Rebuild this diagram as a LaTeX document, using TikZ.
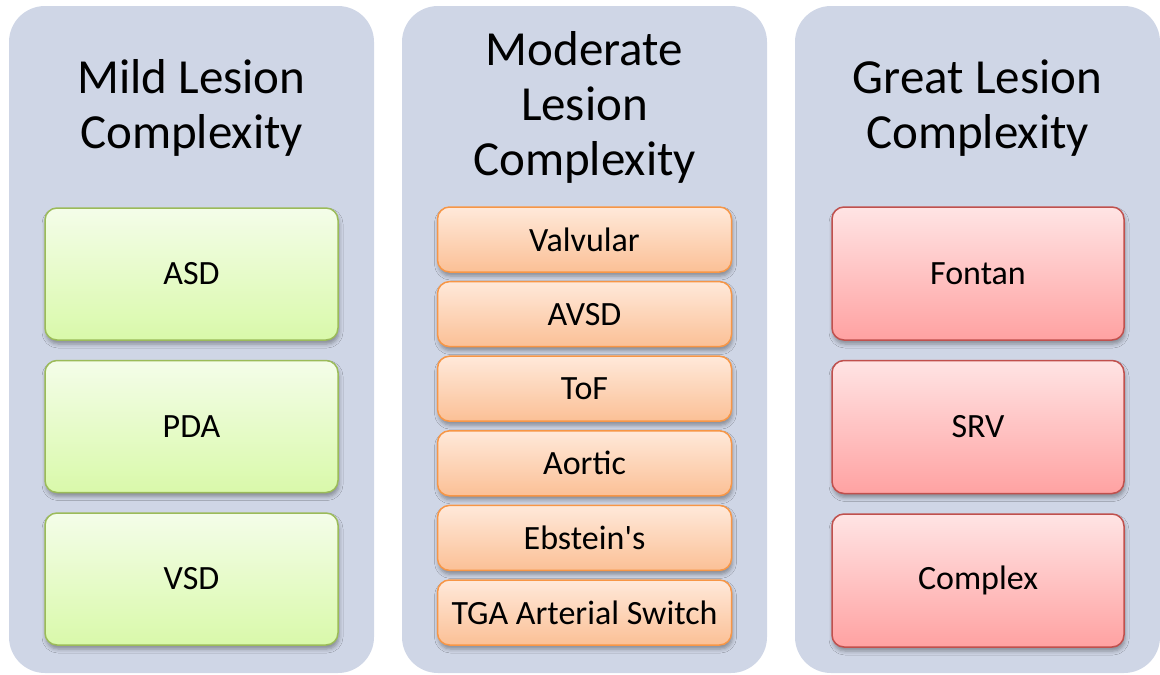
\documentclass[tikz,border=0pt]{standalone}
\usepackage{fontspec}
\setmainfont{Carlito}
\usetikzlibrary{positioning,shadows.blur}

\definecolor{paneblue}{RGB}{207,214,230}
\definecolor{mildline}{RGB}{155,187,89}
\definecolor{mildtop}{RGB}{244,253,233}
\definecolor{mildbot}{RGB}{217,249,170}
\definecolor{modline}{RGB}{247,150,70}
\definecolor{modtop}{RGB}{255,233,218}
\definecolor{modbot}{RGB}{251,192,150}
\definecolor{greatline}{RGB}{192,80,77}
\definecolor{greattop}{RGB}{255,228,228}
\definecolor{greatbot}{RGB}{255,162,162}

\begin{document}
\begin{tikzpicture}
[x=1pt, y=-1pt, node distance=19pt,
 panel/.style={rounded corners=36pt, fill=paneblue, minimum width=365pt, minimum height=667pt, inner sep=0pt},
 head/.style={align=center, font=\fontsize{49}{55}\selectfont, inner sep=0pt, anchor=base},
 item/.style={rounded corners=12pt, line width=1.5pt, inner sep=0pt,
   font=\fontsize{34}{40}\selectfont,
   blur shadow={shadow xshift=1pt, shadow yshift=-4pt, shadow blur radius=4pt, shadow opacity=35}},
 mild/.style={item, draw=mildline, top color=mildtop, bottom color=mildbot, minimum width=293pt, minimum height=132pt},
 moderate/.style={item, draw=modline, top color=modtop, bottom color=modbot, minimum width=294pt, minimum height=65pt},
 great/.style={item, draw=greatline, top color=greattop, bottom color=greatbot, minimum width=292pt, minimum height=133pt}]
\useasboundingbox (0,0) rectangle (1160,675);

% three columns
\node[panel] (mildpane) at (191.5,339.5) {};
\node[panel] (modpane) at (584.5,339.5) {};
\node[panel] (greatpane) at (977.5,339.5) {};

% base of a wrapped head is its last line
\node[head] (mildhead) at (191.5,148) {Mild Lesion\\Complexity};
\node[head] (modhead) at (584.5,175) {Moderate\\Lesion\\Complexity};
\node[head] (greathead) at (977.5,148) {Great Lesion\\Complexity};

% mild lesions
\node[mild] (asd) at (191.5,274) {ASD};
\node[mild, below=of asd] (pda) {PDA};
\node[mild, below=of pda] (vsd) {VSD};

% moderate lesions
\node[moderate] (valv) at (584.5,239.5) {Valvular};
\node[moderate, below=8.1pt of valv] (avsd) {AVSD};
\node[moderate, below=8.1pt of avsd] (tof) {ToF};
\node[moderate, below=8.1pt of tof] (aortic) {Aortic};
\node[moderate, below=8.1pt of aortic] (ebstein) {Ebstein\textquotesingle s};
\node[moderate, below=8.1pt of ebstein] (tga) {TGA Arterial Switch};

% great lesions
\node[great] (fontan) at (978,273.5) {Fontan};
\node[great, below=of fontan] (srv) {SRV};
\node[great, below=of srv] (complex) {Complex};
\end{tikzpicture}
\end{document}
